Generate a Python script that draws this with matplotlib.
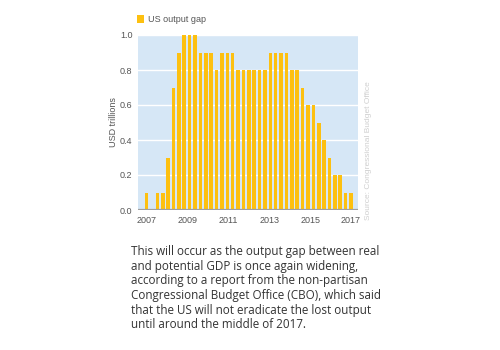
import numpy as np
import matplotlib
matplotlib.use("Agg")
import matplotlib.pyplot as plt

# quarterly output gap, 2007 to 2017 (USD trillions)
gap = [0.1, 0.0, 0.1, 0.1, 0.3, 0.7, 0.9, 1.0, 1.0, 1.0,
       0.9, 0.9, 0.9, 0.8, 0.9, 0.9, 0.9, 0.8, 0.8, 0.8,
       0.8, 0.8, 0.8, 0.9, 0.9, 0.9, 0.9, 0.8, 0.8, 0.7,
       0.6, 0.6, 0.5, 0.4, 0.3, 0.2, 0.2, 0.1, 0.1]
years = ["2007", "2009", "2011", "2013", "2015", "2017"]
yticks = [0.0, 0.2, 0.4, 0.6, 0.8, 1.0]

bar_col = "#fdc010"
bg_col = "#d6e7f6"
grey = "#555555"

plt.rcParams['font.family'] = ['Liberation Sans', 'DejaVu Sans']

fig = plt.figure(figsize=(5, 3.5), dpi=100)
ax = fig.add_axes([0.276, 0.4, 0.44, 0.5])
ax.set_facecolor(bg_col)

x = np.arange(len(gap))
ax.bar(x, gap, width=0.66, color=bar_col, zorder=3, label="US output gap")

ax.set_xlim(-1.6, 39.3)
ax.set_ylim(0, 1.0)
ax.set_yticks(yticks)
ax.set_yticklabels(["%.1f" % v for v in yticks])
ax.set_xticks(np.linspace(0, len(gap) - 1, len(years)))
ax.set_xticklabels(years)
ax.tick_params(length=0, labelsize=6.5, labelcolor=grey, pad=4)
ax.grid(axis="y", color="white", linewidth=1.0, zorder=1)
for s in ax.spines.values():
    s.set_visible(False)
ax.axhline(0, color="#a0a0a0", linewidth=1.6, zorder=4)

ax.set_ylabel("USD trillions", fontsize=6.5, color=grey, labelpad=1)

ax.legend(loc="lower left", bbox_to_anchor=(-0.02, 1.04), frameon=False,
          fontsize=6.5, handlelength=0.8, handleheight=1.0, handletextpad=0.4,
          labelcolor=grey, borderaxespad=0)

fig.text(0.737, 0.37, "Source: Congressional Budget Office", rotation=90,
         fontsize=6, color="#cfcfcf", ha="center", va="bottom")

para = ("This will occur as the output gap between real\n"
        "and potential GDP is once again widening,\n"
        "according to a report from the non-partisan\n"
        "Congressional Budget Office (CBO), which said\n"
        "that the US will not eradicate the lost output\n"
        "until around the middle of 2017.")
fig.text(0.262, 0.30, para, fontsize=8.4, color="#333333", va="top",
         ha="left", linespacing=1.17, family=['Open Sans', 'DejaVu Sans'])

fig.savefig("out.png", dpi=100)
